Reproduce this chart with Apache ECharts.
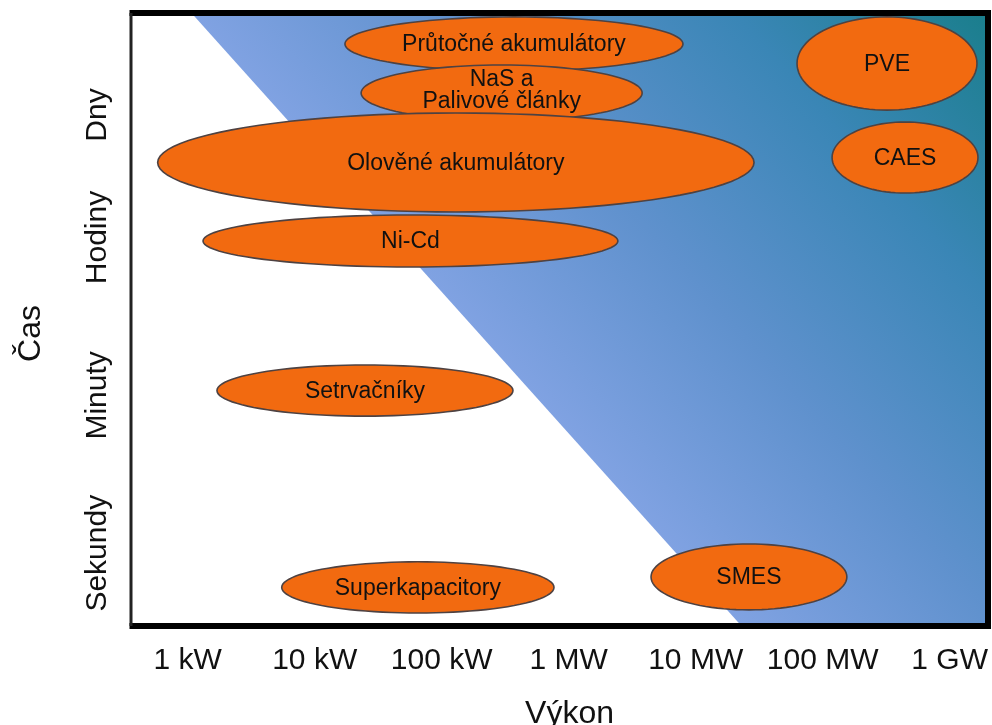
<!DOCTYPE html>
<html>
<head>
<meta charset="utf-8">
<script src="https://cdn.jsdelivr.net/npm/echarts@6/dist/echarts.min.js"></script>
<style>html,body{margin:0;padding:0;background:#fff}#c{width:992px;height:725px}</style>
</head>
<body>
<div id="c"></div>
<script>
// ---- data (power in kW, duration in seconds) ----
const techNames = ['Průtočné akumulátory', 'NaS a\nPalivové články', 'Olověné akumulátory', 'Ni-Cd', 'Setrvačníky', 'Superkapacitory', 'SMES', 'PVE', 'CAES'];
const powerMinKW = [17.3, 23.2, 0.58, 1.32, 1.70, 5.5, 4450, 62800, 118600];
const powerMaxKW = [7940, 3790, 28800, 2440, 364, 766, 155000, 1640000, 1670000];
const timeMinS = [270000, 74000, 6980, 1675, 35, 0.212, 0.23, 98000, 11400];
const timeMaxS = [1100000, 316000, 91000, 6460, 132, 0.80, 1.27, 1100000, 72000];

const xTickPowersKW = [1, 10, 100, 1000, 10000, 100000, 1000000];
const xTickLabels = ['1 kW', '10 kW', '100 kW', '1 MW', '10 MW', '100 MW', '1 GW'];
const yTickSeconds = [1, 60, 3600, 86400];
const yTickLabels = ['Sekundy', 'Minuty', 'Hodiny', 'Dny'];

const powerAxisKW = [0.3577, 2003000];
const timeAxisS = [0.1514, 1217000];
// diagonal boundary of the shaded region (power at longest / shortest time)
const boundaryPowerKW = [1.07, 22950];

const L = Math.log10;
const FONT = '"Liberation Sans", Arial, sans-serif';

const chart = echarts.init(document.getElementById('c'));

const xTickVals = xTickPowersKW.map(L);
const yTickVals = yTickSeconds.map(L);
function nearestLabel(v, vals, labels) {
  let best = 0;
  for (let i = 1; i < vals.length; i++) if (Math.abs(vals[i] - v) < Math.abs(vals[best] - v)) best = i;
  return Math.abs(vals[best] - v) < 1e-6 ? labels[best] : '';
}

const ellipseData = techNames.map((n, i) => [L(powerMinKW[i]), L(powerMaxKW[i]), L(timeMinS[i]), L(timeMaxS[i])]);

chart.setOption({
  animation: false,
  grid: { left: 131, right: 4, top: 13, bottom: 99, containLabel: false, outerBoundsMode: 'none' },
  xAxis: {
    type: 'value',
    min: L(powerAxisKW[0]), max: L(powerAxisKW[1]),
    name: 'Výkon', nameLocation: 'middle', nameGap: 72,
    nameTextStyle: { fontSize: 32, color: '#111', fontFamily: FONT, padding: [0, 0, 0, 20] },
    axisLine: { show: false }, axisTick: { show: false, customValues: xTickVals }, splitLine: { show: false },
    axisLabel: {
      customValues: xTickVals, margin: 20, fontSize: 30, color: '#111', fontFamily: FONT,
      formatter: v => nearestLabel(v, xTickVals, xTickLabels)
    }
  },
  yAxis: {
    type: 'value',
    min: L(timeAxisS[0]), max: L(timeAxisS[1]),
    name: 'Čas', nameLocation: 'middle', nameGap: 84, nameRotate: 90,
    nameTextStyle: { fontSize: 32, color: '#111', fontFamily: FONT, padding: [0, 28, 0, 0] },
    axisLine: { show: false }, axisTick: { show: false, customValues: yTickVals }, splitLine: { show: false },
    axisLabel: {
      customValues: yTickVals, rotate: 90, margin: 18, fontSize: 30, color: '#111', fontFamily: FONT,
      formatter: v => nearestLabel(v, yTickVals, yTickLabels)
    }
  },
  series: [
    {
      type: 'custom', z: 1, silent: true,
      data: [[L(boundaryPowerKW[0]), L(boundaryPowerKW[1])]],
      renderItem: function (params, api) {
        const yTop = L(timeAxisS[1]), yBot = L(timeAxisS[0]), xR = L(powerAxisKW[1]);
        const a = api.coord([api.value(0), yTop]);
        const b = api.coord([xR, yTop]);
        const c = api.coord([xR, yBot]);
        const d = api.coord([api.value(1), yBot]);
        const dx = d[0] - a[0], dy = d[1] - a[1];
        const t = ((b[0] - a[0]) * dx + (b[1] - a[1]) * dy) / (dx * dx + dy * dy);
        const s = [a[0] + t * dx, a[1] + t * dy];
        const grad = new echarts.graphic.LinearGradient(s[0], s[1], b[0], b[1], [
          { offset: 0, color: '#80A2E2' },
          { offset: 0.33, color: '#5F91CD' },
          { offset: 0.68, color: '#3A86B6' },
          { offset: 1, color: '#1A7E8C' }
        ], true);
        return { type: 'polygon', shape: { points: [a, b, c, d] }, style: { fill: grad } };
      }
    },
    {
      type: 'custom', z: 3, silent: true,
      data: ellipseData,
      encode: { x: [0, 1], y: [2, 3] },
      renderItem: function (params, api) {
        const p0 = api.coord([api.value(0), api.value(2)]);
        const p1 = api.coord([api.value(1), api.value(3)]);
        const cx = (p0[0] + p1[0]) / 2, cy = (p0[1] + p1[1]) / 2;
        const rx = Math.abs(p1[0] - p0[0]) / 2, ry = Math.abs(p1[1] - p0[1]) / 2;
        const pts = [];
        for (let k = 0; k < 96; k++) {
          const ang = k / 96 * Math.PI * 2;
          pts.push([cx + rx * Math.cos(ang), cy + ry * Math.sin(ang)]);
        }
        const multi = techNames[params.dataIndex].indexOf('\n') >= 0;
        return {
          type: 'group',
          children: [
            { type: 'polygon', shape: { points: pts }, style: { fill: '#F26A10', stroke: '#4E4242', lineWidth: 1.6 } },
            { type: 'text', style: { text: techNames[params.dataIndex], x: cx, y: cy + (multi ? -2 : 1), align: 'center', verticalAlign: 'middle', font: '23px ' + FONT, fill: '#111', lineHeight: 22 } }
          ]
        };
      }
    },
    {
      type: 'custom', z: 5, silent: true,
      data: [[0]],
      renderItem: function (params, api) {
        const x0 = L(powerAxisKW[0]), x1 = L(powerAxisKW[1]), y0 = L(timeAxisS[0]), y1 = L(timeAxisS[1]);
        const tl = api.coord([x0, y1]), tr = api.coord([x1, y1]), br = api.coord([x1, y0]), bl = api.coord([x0, y0]);
        const ln = (p, q, w, col) => ({ type: 'line', shape: { x1: p[0], y1: p[1], x2: q[0], y2: q[1] }, style: { stroke: col, lineWidth: w } });
        return {
          type: 'group',
          children: [
            ln([tl[0] - 1.5, tl[1]], [tr[0] + 3, tr[1]], 6, '#000'),
            ln([tr[0], tr[1] - 3], [br[0], br[1] + 3], 6, '#000'),
            ln([bl[0] - 1.5, bl[1]], [br[0] + 3, br[1]], 6, '#000'),
            ln([tl[0], tl[1]], [bl[0], bl[1]], 3, '#222')
          ]
        };
      }
    }
  ]
});
</script>
</body>
</html>
